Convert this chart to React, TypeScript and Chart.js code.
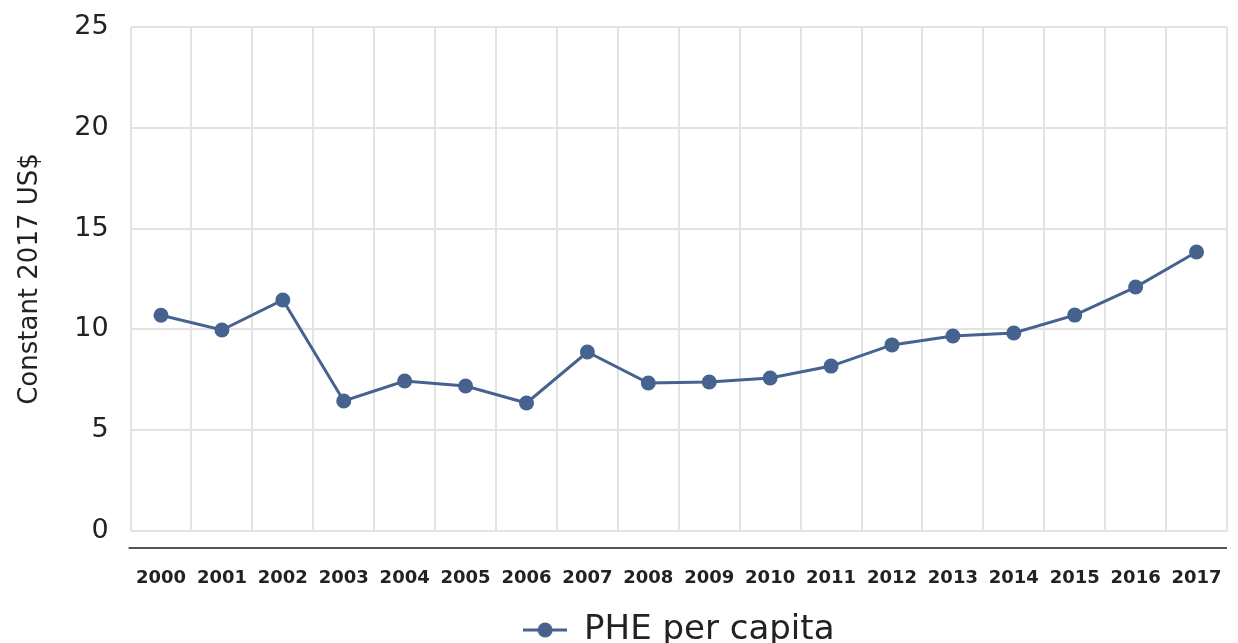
import React, { useEffect, useRef } from "react";
import { Chart, registerables } from "chart.js";

Chart.register(...registerables);

const years = ["2000","2001","2002","2003","2004","2005","2006","2007","2008","2009","2010","2011","2012","2013","2014","2015","2016","2017"];
const pheValues = [10.7, 9.97, 11.46, 6.45, 7.44, 7.19, 6.35, 8.88, 7.34, 7.39, 7.59, 8.18, 9.23, 9.67, 9.82, 10.71, 12.1, 13.84];
const yTicks = [0, 5, 10, 15, 20, 25];
const seriesLabel = "PHE per capita";
const yTitle = "Constant 2017 US$";

const LINE_COLOR = "#46628f";
const FONT = "'DejaVu Sans', sans-serif";
const X_TICK_PAD = 37;
const X_FONT_SIZE = 18;

function makeLegendIcon(): HTMLCanvasElement {
  const c = document.createElement("canvas");
  c.width = 44;
  c.height = 16;
  const ctx = c.getContext("2d")!;
  ctx.strokeStyle = LINE_COLOR;
  ctx.lineWidth = 3;
  ctx.beginPath();
  ctx.moveTo(0, 8);
  ctx.lineTo(44, 8);
  ctx.stroke();
  ctx.fillStyle = LINE_COLOR;
  ctx.beginPath();
  ctx.arc(22, 8, 7.5, 0, Math.PI * 2);
  ctx.fill();
  return c;
}

const axisLinePlugin = {
  id: "axisLine",
  afterDraw(chart: any) {
    const { ctx, chartArea } = chart;
    ctx.save();
    ctx.strokeStyle = "#555555";
    ctx.lineWidth = 2;
    ctx.beginPath();
    ctx.moveTo(chartArea.left - 2, chartArea.bottom + 17);
    ctx.lineTo(chartArea.right, chartArea.bottom + 17);
    ctx.stroke();
    ctx.restore();
  },
};

export default function App() {
  const ref = useRef<HTMLCanvasElement>(null);
  useEffect(() => {
    if (!ref.current) return;
    const icon = makeLegendIcon();
    const chart = new Chart(ref.current, {
      type: "line",
      data: {
        labels: years,
        datasets: [
          {
            label: seriesLabel,
            data: pheValues,
            borderColor: LINE_COLOR,
            backgroundColor: LINE_COLOR,
            borderWidth: 3,
            pointRadius: 7.5,
            pointHoverRadius: 7.5,
            pointBackgroundColor: LINE_COLOR,
            pointBorderWidth: 0,
            tension: 0,
          },
        ],
      },
      options: {
        animation: false,
        responsive: true,
        maintainAspectRatio: false,
        layout: { padding: { left: 15, right: 11, top: 27, bottom: -14 } },
        plugins: {
          tooltip: { enabled: false },
          legend: {
            position: "bottom",
            fullSize: false,
            labels: {
              font: { family: FONT, size: 34 },
              color: "#222222",
              usePointStyle: true,
              pointStyleWidth: 44,
              padding: 23.4,
              generateLabels: (ch: any) =>
                ch.data.datasets.map((ds: any, i: number) => ({
                  text: ds.label,
                  pointStyle: icon,
                  fillStyle: LINE_COLOR,
                  strokeStyle: LINE_COLOR,
                  lineWidth: 0,
                  hidden: false,
                  datasetIndex: i,
                  fontColor: "#222222",
                })),
            },
          },
        },
        scales: {
          x: {
            offset: true,
            afterFit: (axis: any) => {
              axis.paddingLeft = 0;
              axis.paddingRight = 0;
              axis.height = X_TICK_PAD + X_FONT_SIZE * 1.2;
            },
            grid: { offset: true, color: "#e3e3e3", lineWidth: 2, drawTicks: false },
            border: { display: false },
            ticks: {
              font: { family: FONT, size: X_FONT_SIZE, weight: "bold" },
              color: "#222222",
              padding: X_TICK_PAD,
              maxRotation: 0,
              autoSkip: false,
            },
          },
          y: {
            min: 0,
            max: 25,
            afterBuildTicks: (axis: any) => {
              axis.ticks = yTicks.map((v) => ({ value: v }));
            },
            afterFit: (axis: any) => {
              axis.paddingTop = 0;
              axis.paddingBottom = 0;
            },
            grid: { color: "#e3e3e3", lineWidth: 2, drawTicks: false },
            border: { display: false },
            ticks: {
              font: { family: FONT, size: 27 },
              color: "#222222",
              padding: 22,
            },
            title: {
              display: true,
              text: yTitle,
              font: { family: FONT, size: 26 },
              color: "#222222",
              padding: { top: 0, bottom: 6 },
            },
          },
        },
      },
      plugins: [axisLinePlugin],
    });
    return () => chart.destroy();
  }, []);
  return (
    <div style={{ position: "fixed", left: 0, top: 0, width: 1238, height: 643, background: "#fff" }}>
      <canvas ref={ref} />
    </div>
  );
}
